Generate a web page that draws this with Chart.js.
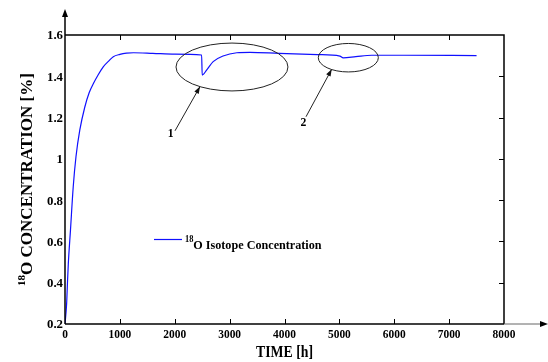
<!DOCTYPE html>
<html><head><meta charset="utf-8">
<script src="https://cdn.jsdelivr.net/npm/chart.js@4/dist/chart.umd.min.js"></script>
<style>html,body{margin:0;padding:0;background:#fff}#wrap{width:548px;height:362px;position:relative}canvas{display:block}</style>
</head><body><div id="wrap"><canvas id="c" width="548" height="362"></canvas></div>
<script>
// ---- data ----
const timeHours = [0, 30, 45, 60, 100, 150, 200, 270, 360, 440, 520, 600, 700, 800, 880, 1000, 1120, 1250, 1600, 2000, 2490, 2500, 2580, 2700, 2880, 3130, 3370, 3900, 4600, 5010, 5070, 5300, 5590, 6170, 7500];
const o18Concentration = [0.20, 0.30, 0.40, 0.49, 0.656, 0.865, 1.01, 1.14, 1.25, 1.32, 1.366, 1.405, 1.447, 1.475, 1.495, 1.506, 1.512, 1.514, 1.511, 1.507, 1.503, 1.406, 1.430, 1.471, 1.498, 1.514, 1.516, 1.511, 1.505, 1.498, 1.489, 1.495, 1.502, 1.502, 1.500];
const xTickValues = [0, 1000, 2000, 3000, 4000, 5000, 6000, 7000, 8000];
const yTickValues = [0.2, 0.4, 0.6, 0.8, 1.0, 1.2, 1.4, 1.6];
const yTickLabels = ['0.2', '0.4', '0.6', '0.8', '1', '1.2', '1.4', '1.6'];
const seriesSup = '18';
const seriesName = 'O Isotope Concentration';
const xTitle = 'TIME [h]';
const yTitleSup = '18';
const yTitle = 'O CONCENTRATION [%]';
const calloutLabels = ['1', '2'];

// ---- annotation geometry (data units) ----
const ellipses = [
  {cx: 3043, cy: 1.445, rx: 1020, ry: 0.116},
  {cx: 5163, cy: 1.490, rx: 547, ry: 0.069}
];
const arrows = [
  {x1: 2005, y1: 1.136, x2: 2460, y2: 1.350, lx: 1926, ly: 1.120},
  {x1: 4392, y1: 1.204, x2: 4860, y2: 1.434, lx: 4343, ly: 1.176}
];

const FONT = '"Liberation Serif","Times New Roman",serif';
function txt(ctx, s, x, y, size, align, base, sx) {
  ctx.save();
  ctx.translate(x, y);
  ctx.scale(sx || 1, 1);
  ctx.font = 'bold ' + size + 'px ' + FONT;
  ctx.textAlign = align; ctx.textBaseline = base;
  ctx.fillStyle = '#000';
  ctx.fillText(s, 0, 0);
  ctx.restore();
}
function arrowHead(ctx, x1, y1, x2, y2, len, hw) {
  const a = Math.atan2(y2 - y1, x2 - x1);
  ctx.beginPath();
  ctx.moveTo(x2, y2);
  ctx.lineTo(x2 - len * Math.cos(a) + hw * Math.sin(a), y2 - len * Math.sin(a) - hw * Math.cos(a));
  ctx.lineTo(x2 - len * Math.cos(a) - hw * Math.sin(a), y2 - len * Math.sin(a) + hw * Math.cos(a));
  ctx.closePath();
  ctx.fill();
}

const decor = {
  id: 'decor',
  afterDraw(chart) {
    const ctx = chart.ctx, a = chart.chartArea, xs = chart.scales.x, ys = chart.scales.y;
    ctx.save();
    ctx.strokeStyle = '#000'; ctx.fillStyle = '#000'; ctx.lineWidth = 1.5;
    // box top & right
    ctx.beginPath();
    ctx.moveTo(a.left, a.top); ctx.lineTo(a.right, a.top); ctx.lineTo(a.right, a.bottom);
    ctx.stroke();
    // left axis with arrow
    ctx.beginPath(); ctx.moveTo(a.left, a.bottom); ctx.lineTo(a.left, 15); ctx.stroke();
    arrowHead(ctx, a.left, 30, a.left, 9, 8, 3);
    // bottom axis
    ctx.beginPath(); ctx.moveTo(a.left, a.bottom); ctx.lineTo(a.right, a.bottom); ctx.stroke();
    ctx.strokeStyle = '#666'; ctx.lineWidth = 1;
    ctx.beginPath(); ctx.moveTo(a.right, a.bottom); ctx.lineTo(542, a.bottom); ctx.stroke();
    arrowHead(ctx, 520, a.bottom, 548, a.bottom, 8, 3);
    // ticks
    ctx.strokeStyle = '#000'; ctx.lineWidth = 1;
    xs.ticks.forEach(t => {
      const px = Math.round(xs.getPixelForValue(t.value)) + 0.5;
      if (t.value === xs.min || t.value === xs.max) return;
      ctx.beginPath();
      ctx.moveTo(px, a.bottom); ctx.lineTo(px, a.bottom - 5);
      ctx.moveTo(px, a.top); ctx.lineTo(px, a.top + 5);
      ctx.stroke();
    });
    ys.ticks.forEach(t => {
      const py = Math.round(ys.getPixelForValue(t.value)) + 0.5;
      if (t.value === ys.min || t.value === ys.max) return;
      ctx.beginPath(); ctx.moveTo(a.right, py); ctx.lineTo(a.right - 5, py); ctx.stroke();
    });
    // tick labels
    xs.ticks.forEach((t, i) => {
      txt(ctx, String(xTickValues[i]), xs.getPixelForValue(t.value), a.bottom + 11, 13, 'center', 'middle', 0.88);
    });
    ys.ticks.forEach((t, i) => {
      txt(ctx, yTickLabels[i], a.left - 2, ys.getPixelForValue(t.value) + 1, 13.5, 'right', 'middle', 0.95);
    });
    // axis titles
    txt(ctx, xTitle, (a.left + a.right) / 2, 357, 17, 'center', 'alphabetic', 0.81);
    ctx.save();
    ctx.translate(32, 179.5);
    ctx.rotate(-Math.PI / 2);
    ctx.font = 'bold 11px ' + FONT;
    const w1 = ctx.measureText(yTitleSup).width;
    ctx.font = 'bold 17px ' + FONT;
    const w2 = ctx.measureText(yTitle).width;
    const start = -(w1 + w2) / 2;
    txt(ctx, yTitleSup, start, -7, 11, 'left', 'alphabetic', 1);
    txt(ctx, yTitle, start + w1, 0, 17, 'left', 'alphabetic', 1);
    ctx.restore();
    // legend
    const ds = chart.data.datasets[0];
    ctx.strokeStyle = ds.borderColor; ctx.lineWidth = 1.2;
    ctx.beginPath(); ctx.moveTo(154, 239.5); ctx.lineTo(182, 239.5); ctx.stroke();
    txt(ctx, seriesSup, 185, 241.5, 10.5, 'left', 'alphabetic', 0.8);
    txt(ctx, seriesName, 193.3, 248.5, 13.5, 'left', 'alphabetic', 0.9);
    // ellipses
    ctx.strokeStyle = '#222'; ctx.lineWidth = 1;
    ellipses.forEach(e => {
      const cx = xs.getPixelForValue(e.cx), cy = ys.getPixelForValue(e.cy);
      const rx = xs.getPixelForValue(e.cx + e.rx) - cx, ry = cy - ys.getPixelForValue(e.cy + e.ry);
      ctx.beginPath(); ctx.ellipse(cx, cy, rx, ry, 0, 0, Math.PI * 2); ctx.stroke();
    });
    // arrows & labels
    ctx.fillStyle = '#111';
    arrows.forEach((r, i) => {
      const x1 = xs.getPixelForValue(r.x1), y1 = ys.getPixelForValue(r.y1);
      const x2 = xs.getPixelForValue(r.x2), y2 = ys.getPixelForValue(r.y2);
      ctx.beginPath(); ctx.moveTo(x1, y1); ctx.lineTo(x2, y2); ctx.stroke();
      arrowHead(ctx, x1, y1, x2, y2, 7, 2.5);
      txt(ctx, calloutLabels[i], xs.getPixelForValue(r.lx), ys.getPixelForValue(r.ly), 13, 'center', 'middle', 0.9);
    });
    ctx.restore();
  }
};

new Chart(document.getElementById('c'), {
  type: 'line',
  data: {
    datasets: [{
      label: seriesSup + seriesName,
      data: timeHours.map((t, i) => ({x: t, y: o18Concentration[i]})),
      borderColor: '#1010ff',
      borderWidth: 1.2,
      pointRadius: 0,
      fill: false,
      cubicInterpolationMode: 'monotone'
    }]
  },
  options: {
    responsive: false,
    animation: false,
    devicePixelRatio: 1,
    layout: {padding: {left: 0, right: 44, top: 35, bottom: 0}},
    plugins: {legend: {display: false}, tooltip: {enabled: false}},
    scales: {
      x: {
        type: 'linear', min: 0, max: 8000,
        afterBuildTicks: s => { s.ticks = xTickValues.map(v => ({value: v})); },
        ticks: {display: false},
        grid: {display: false, drawTicks: false},
        border: {display: false},
        afterFit: s => { s.height = 38; }
      },
      y: {
        type: 'linear', min: 0.2, max: 1.6,
        afterBuildTicks: s => { s.ticks = yTickValues.map(v => ({value: v})); },
        ticks: {display: false},
        grid: {display: false, drawTicks: false},
        border: {display: false},
        afterFit: s => { s.width = 65; }
      }
    }
  },
  plugins: [decor]
});
</script>
</body></html>
